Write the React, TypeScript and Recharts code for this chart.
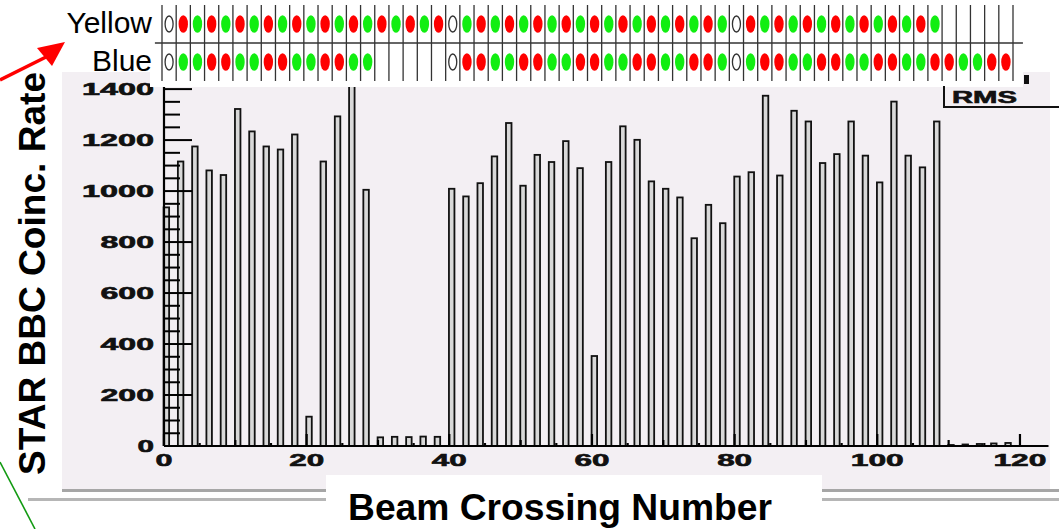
import React from 'react';
import { BarChart, Bar, XAxis, YAxis, ScatterChart, Scatter, ReferenceLine } from 'recharts';

// filled RHIC buckets (every second crossing) and the BBC coincidence rate in each
const crossings = [
  0, 2, 4, 6, 8, 10, 12, 14, 16, 18, 20, 22, 24, 26, 28, 30, 32, 34, 36, 38,
  40, 42, 44, 46, 48, 50, 52, 54, 56, 58, 60, 62, 64, 66, 68, 70, 72, 74, 76, 78,
  80, 82, 84, 86, 88, 90, 92, 94, 96, 98, 100, 102, 104, 106, 108, 110, 112, 114, 116, 118,
];
const bbcRate = [
  936, 1116, 1175, 1081, 1063, 1322, 1234, 1175, 1163, 1222, 115, 1116, 1293, 1430, 1005, 34, 36, 35, 37, 36,
  1009, 979, 1031, 1136, 1267, 1021, 1142, 1114, 1196, 1090, 353, 1114, 1254, 1201, 1038, 1009, 975, 815, 946, 874,
  1057, 1074, 1374, 1061, 1315, 1273, 1110, 1145, 1273, 1139, 1034, 1351, 1139, 1093, 1273, 4, 6, 8, 10, 12,
];

// spin pattern per bunch: + red, - green, 0 unpolarized, . empty
const yellowSpin = ('0+-+-+-+-+-+-+-+-+-+' + '0-+-+-+-+-+-+-+-+-+-' + '0+-+-+-+-+-+-+-.....').split('');
const blueSpin = ('0--++--++--++--.....' + '0++--++--++--++--++-' + '0-++--++--++--++--++').split('');

const xTicks = [0, 5, 10, 15, 20, 25, 30, 35, 40, 45, 50, 55, 60, 65, 70, 75, 80, 85, 90, 95, 100, 105, 110, 115, 120];
const yTicks = [
  0, 50, 100, 150, 200, 250, 300, 350, 400, 450, 500, 550, 600, 650, 700,
  750, 800, 850, 900, 950, 1000, 1050, 1100, 1150, 1200, 1250, 1300, 1350, 1400,
];
const cellEdges = [...crossings, 120];

const histData = crossings.map((bin, i) => ({ bin, rate: bbcRate[i] }));
const yellowDots = yellowSpin
  .map((s, i) => ({ x: crossings[i] + 1, y: 1, s }))
  .filter((d) => d.s !== '.');
const blueDots = blueSpin
  .map((s, i) => ({ x: crossings[i] + 1, y: 0, s }))
  .filter((d) => d.s !== '.');

const rootFont = {
  fontFamily: '"Liberation Sans", Arial, sans-serif',
  fontWeight: 700,
  fill: '#111',
  stroke: '#111',
  strokeWidth: 0.6,
};

const HistBar = (props: any) => {
  const { x, y, width, height } = props;
  if (!height || height <= 0) return null;
  return (
    <rect x={x + width / 2} y={y} width={width} height={height} fill="#d8d8d8" stroke="#111" strokeWidth={1.8} />
  );
};

const XTick = (props: any) => {
  const { x, y, payload } = props;
  const v = payload.value;
  const len = v % 20 === 0 ? 12 : v % 10 === 0 ? 6 : 3;
  const label = String(v);
  return (
    <g>
      <line x1={x} y1={y} x2={x} y2={y - len} stroke="#000" strokeWidth={2.2} />
      {v % 20 === 0 && (
        <text
          x={x}
          y={y + 20}
          textAnchor="middle"
          fontSize={17}
          textLength={label.length * 18 - 1}
          lengthAdjust="spacingAndGlyphs"
          {...rootFont}
        >
          {label}
        </text>
      )}
    </g>
  );
};

const YTick = (props: any) => {
  const { x, y, payload } = props;
  const v = payload.value;
  const major = v % 200 === 0;
  const label = String(v);
  return (
    <g>
      <line x1={x} y1={y} x2={x + (major ? 28 : 16)} y2={y} stroke="#000" strokeWidth={2} />
      {major && (
        <text
          x={x - 10}
          y={y + 6}
          textAnchor="end"
          fontSize={17}
          textLength={label.length * 18.5 - 2}
          lengthAdjust="spacingAndGlyphs"
          {...rootFont}
        >
          {label}
        </text>
      )}
    </g>
  );
};

const SpinDot = (props: any) => {
  const { cx, cy, payload } = props;
  if (payload.s === '0') {
    return <ellipse cx={cx} cy={cy} rx={4} ry={8} fill="#fff" stroke="#333" strokeWidth={1.3} />;
  }
  return <ellipse cx={cx} cy={cy} rx={4.7} ry={8.7} fill={payload.s === '+' ? '#ff0000' : '#11ee11'} />;
};

const abs = (left: number, top: number, width: number, height: number, extra = {}) => ({
  position: 'absolute' as const,
  left,
  top,
  width,
  height,
  ...extra,
});

export default function App() {
  return (
    <div style={abs(0, 0, 1059, 529, { background: '#fff', overflow: 'hidden' })}>
      {/* ROOT canvas background */}
      <div style={abs(62, 72, 988, 417, { background: '#f3eff3' })} />

      <div style={abs(0, 0, 1059, 529)}>
        <BarChart
          width={1059}
          height={529}
          data={histData}
          margin={{ top: 84, right: 10.5, bottom: 53, left: 104 }}
        >
          <XAxis
            type="number"
            dataKey="bin"
            domain={[0, 124]}
            ticks={xTicks}
            interval={0}
            height={30}
            tickSize={0}
            tickMargin={0}
            tickLine={false}
            axisLine={{ stroke: '#000', strokeWidth: 2.2 }}
            tick={<XTick />}
          />
          <YAxis
            type="number"
            domain={[0, 1420]}
            ticks={yTicks}
            interval={0}
            width={60}
            allowDataOverflow
            tickSize={0}
            tickMargin={0}
            tickLine={false}
            axisLine={{ stroke: '#000', strokeWidth: 2.2 }}
            tick={<YTick />}
          />
          <Bar dataKey="rate" barSize={5.5} shape={<HistBar />} isAnimationActive={false} />
        </BarChart>
      </div>

      {/* spin pattern strip */}
      <div style={abs(150, 0, 873, 87, { background: '#fff' })} />
      <div style={abs(0, 0, 1059, 90)}>
        <ScatterChart width={1059} height={90} margin={{ top: 5, right: 46, bottom: 9, left: 162 }}>
          <XAxis type="number" dataKey="x" domain={[0, 120]} hide />
          <YAxis type="number" dataKey="y" domain={[-0.5, 1.5]} hide />
          {cellEdges.map((e) => (
            <ReferenceLine key={e} x={e} stroke="#333" strokeWidth={1.3} />
          ))}
          <ReferenceLine
            segment={[{ x: -1, y: 0.5 }, { x: 121.4, y: 0.5 }]}
            ifOverflow="visible"
            stroke="#333"
            strokeWidth={1.3}
          />
          <Scatter data={yellowDots} shape={<SpinDot />} isAnimationActive={false} />
          <Scatter data={blueDots} shape={<SpinDot />} isAnimationActive={false} />
        </ScatterChart>
      </div>

      {/* stats box peeking in at the top right */}
      <div
        style={abs(943, 86, 116, 22, {
          borderLeft: '2px solid #111',
          borderBottom: '2px solid #111',
          boxSizing: 'border-box',
        })}
      />

      <svg width={1059} height={529} style={abs(0, 0, 1059, 529, { pointerEvents: 'none' })}>
        <text x={952} y={103} fontSize={16} textLength={65} lengthAdjust="spacingAndGlyphs" {...rootFont}>
          RMS
        </text>
        <rect x={1024} y={75} width={5} height={9} fill="#111" />

        <line x1={62} y1={490.5} x2={1059} y2={490.5} stroke="#a6a6a6" strokeWidth={3} />
        <line x1={28} y1={499.5} x2={1059} y2={499.5} stroke="#b6b6b6" strokeWidth={3} />

        <text x={152} y={33} textAnchor="end" fontSize={30} fontFamily='"Liberation Sans", Arial, sans-serif' fill="#000">
          Yellow
        </text>
        <text x={152} y={71} textAnchor="end" fontSize={30} fontFamily='"Liberation Sans", Arial, sans-serif' fill="#000">
          Blue
        </text>

        <line x1={0} y1={80} x2={46} y2={57} stroke="#ff0000" strokeWidth={3.5} />
        <polygon points="65,42 37,48 52,66" fill="#ff0000" />
        <line x1={0} y1={462} x2={35} y2={529} stroke="#129a12" strokeWidth={1.6} />

        <text
          transform="translate(45 273.5) rotate(-90)"
          textAnchor="middle"
          fontSize={36}
          fontWeight={700}
          textLength={403}
          lengthAdjust="spacingAndGlyphs"
          fontFamily='"Liberation Sans", Arial, sans-serif'
          fill="#000"
        >
          STAR BBC Coinc. Rate
        </text>

        <rect x={326} y={475} width={496} height={54} fill="#fff" />
        <text
          x={560}
          y={520}
          textAnchor="middle"
          fontSize={36}
          fontWeight={700}
          textLength={424}
          lengthAdjust="spacingAndGlyphs"
          fontFamily='"Liberation Sans", Arial, sans-serif'
          fill="#000"
        >
          Beam Crossing Number
        </text>
      </svg>
    </div>
  );
}
